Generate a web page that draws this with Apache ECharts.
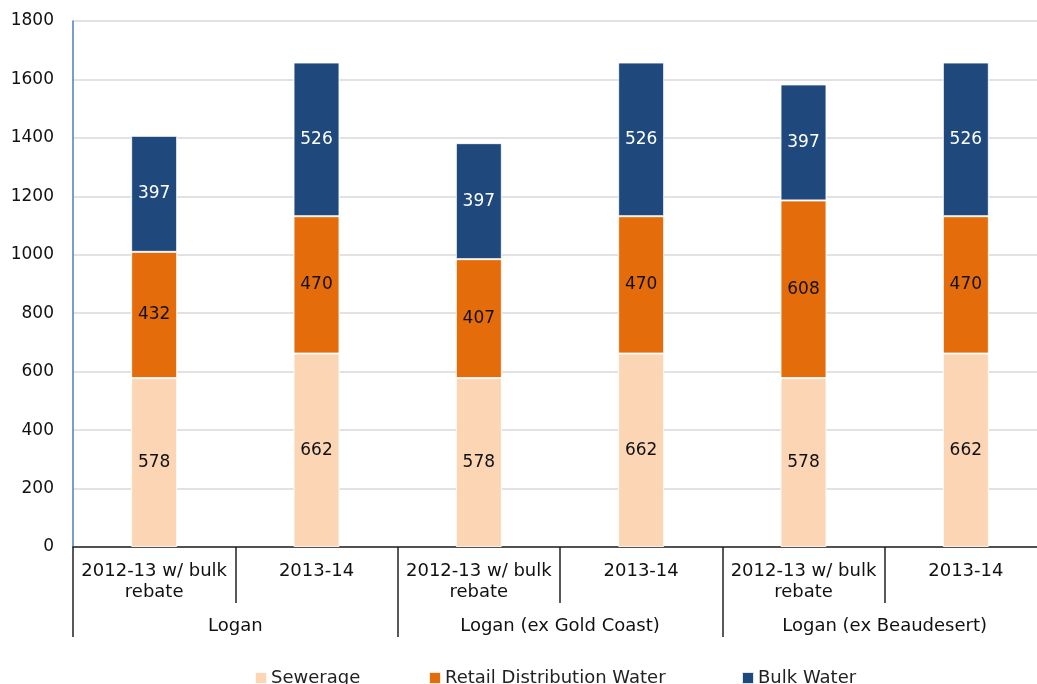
<!DOCTYPE html>
<html>
<head>
<meta charset="utf-8">
<script src="https://cdn.jsdelivr.net/npm/echarts@6/dist/echarts.min.js"></script>
<style>
    html, body { margin: 0; padding: 0; background: #fff; }
    #chart { width: 1037px; height: 684px; }
</style>
</head>
<body>
<div id="chart"></div>
<script>
const periods = ['2012-13 w/ bulk\nrebate', '2013-14', '2012-13 w/ bulk\nrebate', '2013-14', '2012-13 w/ bulk\nrebate', '2013-14']
const groups = ['Logan', 'Logan (ex Gold Coast)', 'Logan (ex Beaudesert)']
const sewerage = [578, 662, 578, 662, 578, 662]
const retailWater = [432, 470, 407, 470, 608, 470]
const bulkWater = [397, 526, 397, 526, 397, 526]

const font = 'DejaVu Sans, Verdana, sans-serif'

const chart = echarts.init(document.getElementById('chart'))

function barSeries(name, data, color, labelColor) {
    return {
        name: name,
        type: 'bar',
        stack: 'total',
        barWidth: 46,
        data: data,
        itemStyle: {
            color: color,
            borderColor: 'rgba(255,255,255,0.85)',
            borderWidth: 1
        },
        label: {
            show: true,
            position: 'inside',
            color: labelColor,
            fontSize: 17,
            fontFamily: font
        }
    }
}

function legendItem(name, left) {
    return {
        data: [name],
        left: left,
        top: 664,
        icon: 'rect',
        itemWidth: 12,
        itemHeight: 12,
        selectedMode: false,
        textStyle: { fontSize: 18, fontFamily: font, color: '#222', padding: [0, 0, 0, -1] }
    }
}

let option = {
    animation: false,
    textStyle: { fontFamily: font },
    legend: [
        legendItem('Sewerage', 249),
        legendItem('Retail Distribution Water', 423),
        legendItem('Bulk Water', 736)
    ],
    grid: {
        left: 73,
        right: -10,
        top: 21,
        bottom: 137,
        containLabel: false,
        outerBoundsMode: 'none'
    },
    xAxis: [
        {
            type: 'category',
            data: periods,
            position: 'bottom',
            axisLine: { show: true, lineStyle: { color: '#222', width: 1.5 } },
            axisTick: { show: true, length: 56, lineStyle: { color: '#222', width: 1.5 } },
            axisLabel: {
                interval: 0,
                margin: 14,
                fontSize: 18,
                lineHeight: 21,
                color: '#111',
                fontFamily: font
            },
            splitLine: { show: false }
        },
        {
            type: 'category',
            data: groups,
            position: 'bottom',
            axisLine: { show: false },
            axisTick: { show: true, length: 90, lineStyle: { color: '#222', width: 1.5 } },
            axisLabel: {
                interval: 0,
                margin: 70,
                fontSize: 18,
                color: '#111',
                fontFamily: font
            },
            splitLine: { show: false }
        }
    ],
    yAxis: {
        type: 'value',
        min: 0,
        max: 1800,
        interval: 200,
        axisLine: { show: true, lineStyle: { color: '#4a7ebb', width: 1.5 } },
        axisTick: { show: false },
        axisLabel: {
            margin: 19,
            fontSize: 17,
            color: '#111',
            fontFamily: font,
            formatter: v => String(v)
        },
        splitLine: { lineStyle: { color: '#d9d9d9', width: 1.5 } }
    },
    series: [
        barSeries('Sewerage', sewerage, '#fcd5b5', '#111'),
        barSeries('Retail Distribution Water', retailWater, '#e46c0a', '#111'),
        barSeries('Bulk Water', bulkWater, '#1f497d', '#fff')
    ]
}
chart.setOption(option)
</script>
</body>
</html>
